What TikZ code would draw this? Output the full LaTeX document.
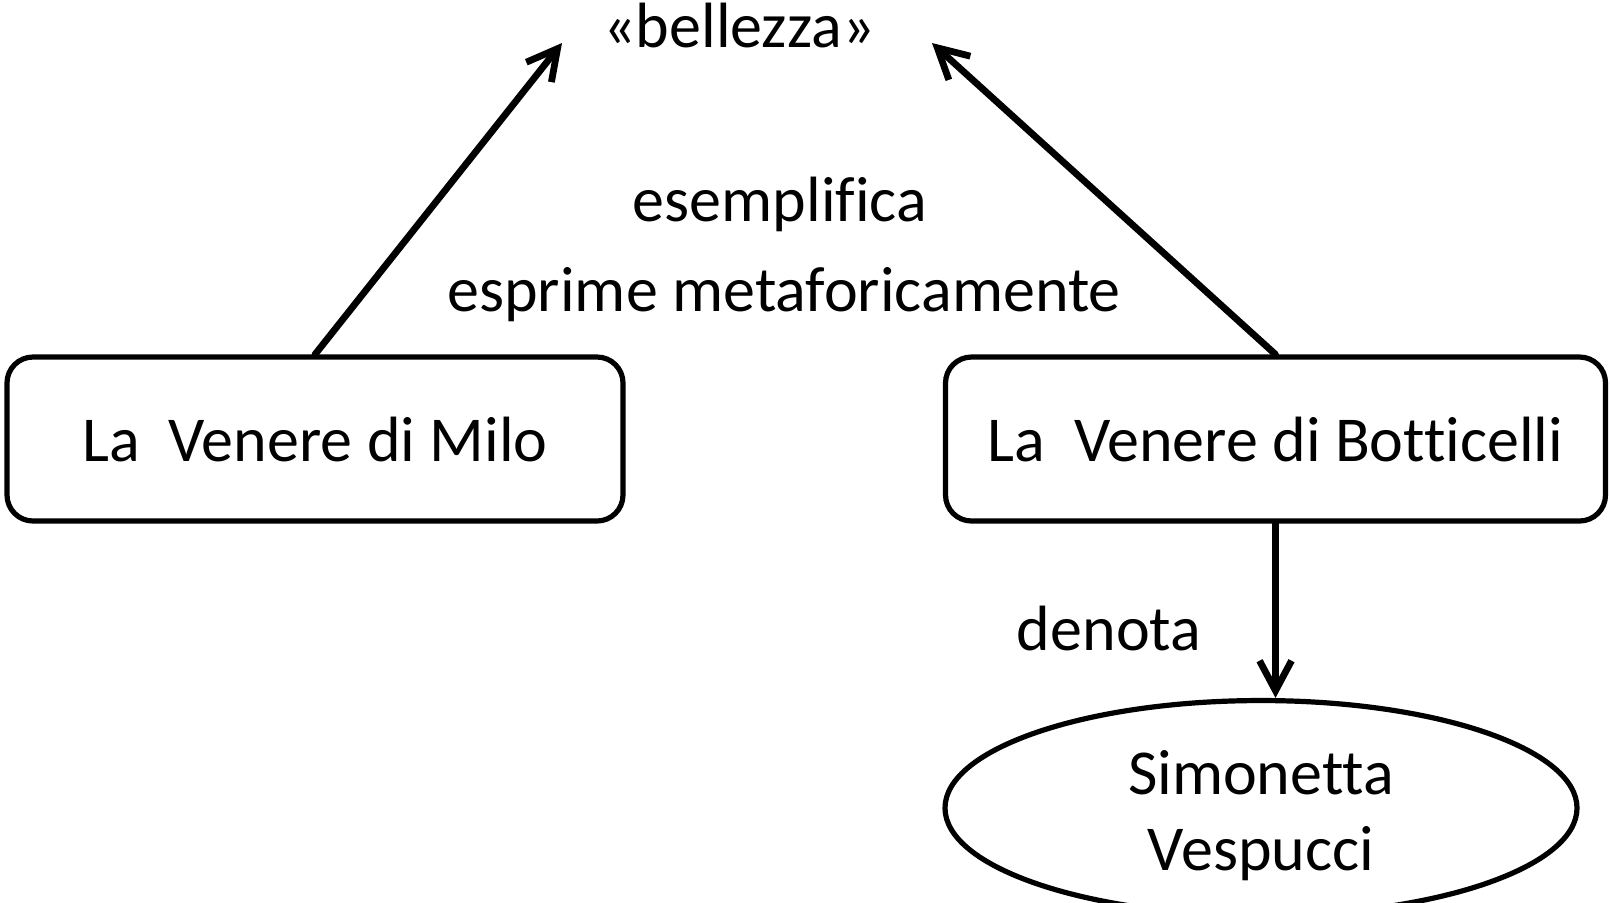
\documentclass[tikz,border=0pt]{standalone}
\usepackage{fontspec}
\setmainfont{Carlito}[Ligatures=NoCommon,RawFeature={-liga;-dlig;-clig}]
\usetikzlibrary{arrows.meta,shapes.geometric}
\tikzset{
  lbl/.style={font=\fontsize{32}{38}\selectfont, anchor=base, inner sep=0pt},
  venbox/.style={draw, line width=2.6pt, rounded corners=13pt, minimum height=82pt, inner sep=0pt, font=\fontsize{32}{38}\selectfont},
  ovalbox/.style={draw, ellipse, line width=2.6pt, minimum width=316pt, minimum height=89pt, inner sep=0pt, font=\fontsize{32}{38}\selectfont},
  conn/.style={line width=3.4pt, line cap=round, -{Straight Barb[length=15pt,width=16pt,line width=3.4pt]}}
}
\begin{document}
\begin{tikzpicture}[x=0.5pt,y=-0.5pt]
\useasboundingbox (0,0) rectangle (1610,902);
\node[lbl] (bel) at (739,47) {«bellezza»};
\node[lbl] (esem) at (780,221) {esemplifica};
\node[lbl] (espr) at (784,311) {esprime metaforicamente};
\node[venbox, minimum width=308pt] (M) at (315,439) {La\ \ Venere di Milo};
\node[venbox, minimum width=330pt] (B) at (1275.5,439) {La\ \ Venere di Botticelli};
\node[lbl] (den) at (1109,650) {denota};
\node[ovalbox] (S) at (1261,808) {\raisebox{-4.5pt}[\height][\depth]{\begin{tabular}{@{}c@{}}Simonetta\\Vespucci\end{tabular}}};
\coordinate (tipL) at (562,43);
\coordinate (tipR) at (932,43);
\draw[conn] (M.north) -- (tipL);
\draw[conn] (B.north) -- (tipR);
\draw[conn] (B.south) -- (B.south |- S.north);
\end{tikzpicture}
\end{document}
